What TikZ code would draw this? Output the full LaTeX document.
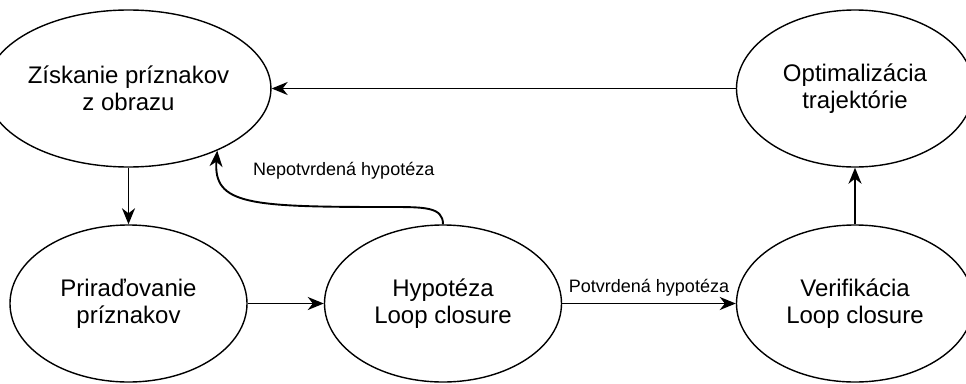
\documentclass[tikz,border=0pt]{standalone}
\usepackage{fontspec}
\setmainfont{Liberation Sans}
\usetikzlibrary{shapes.geometric,arrows.meta}
\begin{document}
\begin{tikzpicture}[x=1pt,y=-1pt,
  stnode/.style={ellipse,draw,line width=1.4pt,minimum width=237pt,minimum height=157pt,inner sep=0pt,align=center,font=\fontsize{24}{27}\selectfont},
  conn/.style={line width=1.9pt,-{Stealth[length=16pt,width=13pt,inset=5pt]}},
  lbl/.style={font=\fontsize{18}{21}\selectfont,inner sep=0pt}]
\useasboundingbox (0,0) rectangle (966,383);
\node[stnode] (zis) at (128.5,88.5) {Získanie príznakov\\z obrazu};
\node[stnode] (opt) at (855,88.5) {Optimalizácia\\trajektórie};
\node[stnode] (pri) at (128.5,303.5) {Priraďovanie\\príznakov};
\node[stnode] (hyp) at (443,303.5) {Hypotéza\\Loop closure};
\node[stnode] (ver) at (855,303.5) {Verifikácia\\Loop closure};
\draw[conn] (opt) -- (zis);
\draw[conn] (zis) -- (pri);
\draw[conn] (pri) -- (hyp);
\draw[conn] (hyp) -- node[lbl,above=6pt] (plbl) {Potvrdená hypotéza} (ver);
\draw[conn] (ver) -- (opt);
\draw[conn] (hyp.north) .. controls (443,207) and (425,207) .. (390,207)
  .. controls (250,207) and (213,205) .. (zis.-35);
\node[lbl,anchor=base west] (nlbl) at (253,175) {Nepotvrdená hypotéza};
\end{tikzpicture}
\end{document}
